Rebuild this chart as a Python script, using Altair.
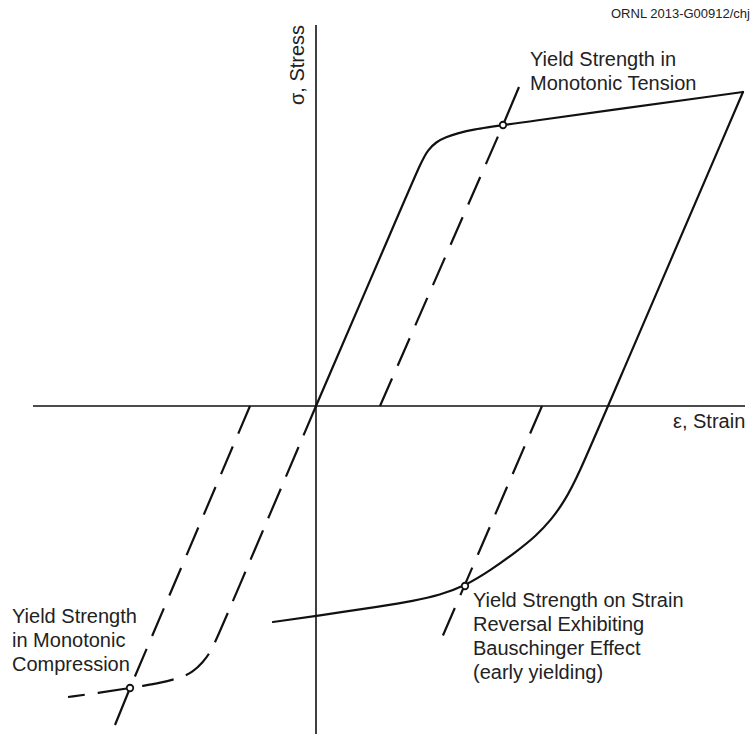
import altair as alt
import pandas as pd

# Schematic stress-strain loop (arbitrary units: strain right, stress up)

# Monotonic tension: elastic loading, yield knee, work hardening to the peak
tension_strain = [0, 84, 106, 112, 120, 130, 141, 157, 187, 427]
tension_stress = [0, 195, 246, 256, 264, 269, 272.5, 276.5, 281, 314]

# Strain reversal from the peak: elastic unloading, early (Bauschinger) yielding
reversal_strain = [-43, 0, 67, 97, 124, 149, 175, 200, 220, 235, 248, 262, 292, 427]
reversal_stress = [-216, -210, -200, -195, -189, -180, -164, -146, -130, -114, -96, -70, 0, 314]

# Monotonic compression (dashed)
compression_strain = [-248, -218, -186, -174, -156, -136, -123, -113, -106, -99, -86, 0]
compression_stress = [-291, -287, -282, -280, -277, -272, -266, -256, -247, -232, -202, 0]

# Offset (parallel-to-elastic) construction lines: start on the strain axis, end past the yield point
offset_x1 = [64, 226, -66]
offset_y1 = [0, 0, 0]
offset_x2 = [187, 125, -186]
offset_y2 = [281, -234, -282]

# Leader lines from a yield point toward its label
leader_x1 = [187, -186]
leader_y1 = [281, -282]
leader_x2 = [203, -201]
leader_y2 = [319, -319]

# Yield points
yield_strain = [187, 149, -186]
yield_stress = [281, -180, -282]

# Axes
axis_strain_range = [-283, 429]
axis_stress_range = [-328, 381]

# Annotations
label_text = [
    ["Yield Strength in", "Monotonic Tension"],
    ["Yield Strength on Strain", "Reversal Exhibiting", "Bauschinger Effect", "(early yielding)"],
    ["Yield Strength", "in Monotonic", "Compression"],
    "ε, Strain",
]
label_strain = [214, 157, -304, 357]
label_stress = [340, -201, -217, -22]

INK = "#111111"
TEXT = "#222222"
FONT = "Liberation Sans"

xs = alt.Scale(domain=[-316, 435], nice=False, zero=False)
ys = alt.Scale(domain=[-328, 406], nice=False, zero=False)
X = lambda f: alt.X(f, type="quantitative", scale=xs, axis=None)
Y = lambda f: alt.Y(f, type="quantitative", scale=ys, axis=None)

curves = pd.DataFrame({
    "strain": tension_strain + reversal_strain,
    "stress": tension_stress + reversal_stress,
    "branch": ["tension"] * len(tension_strain) + ["reversal"] * len(reversal_strain),
})
comp = pd.DataFrame({"strain": compression_strain, "stress": compression_stress})
offsets = pd.DataFrame({"x1": offset_x1, "y1": offset_y1, "x2": offset_x2, "y2": offset_y2})
leaders = pd.DataFrame({"x1": leader_x1, "y1": leader_y1, "x2": leader_x2, "y2": leader_y2})
points = pd.DataFrame({"strain": yield_strain, "stress": yield_stress})
axes_h = pd.DataFrame({"x1": [axis_strain_range[0]], "x2": [axis_strain_range[1]], "y": [0]})
axes_v = pd.DataFrame({"x": [0], "y1": [axis_stress_range[0]], "y2": [axis_stress_range[1]]})
labels = pd.DataFrame({"strain": label_strain, "stress": label_stress, "text": label_text})

h_axis = alt.Chart(axes_h).mark_rule(color=INK, strokeWidth=1.6).encode(
    x=X("x1"), x2="x2", y=Y("y"))
v_axis = alt.Chart(axes_v).mark_rule(color=INK, strokeWidth=1.6).encode(
    x=X("x"), y=Y("y1"), y2="y2")

solid = alt.Chart(curves).mark_line(
    color=INK, strokeWidth=2.2, interpolate="basis", strokeCap="round", strokeJoin="round"
).encode(x=X("strain"), y=Y("stress"), detail="branch:N")

dashed = alt.Chart(comp).mark_line(
    color=INK, strokeWidth=2.2, interpolate="basis", strokeDash=[32, 13], strokeDashOffset=15
).encode(x=X("strain"), y=Y("stress"))

offset_lines = alt.Chart(offsets).mark_rule(
    color=INK, strokeWidth=2.2, strokeDash=[30, 14]
).encode(x=X("x1"), y=Y("y1"), x2="x2", y2="y2")

leader_lines = alt.Chart(leaders).mark_rule(color=INK, strokeWidth=2.2).encode(
    x=X("x1"), y=Y("y1"), x2="x2", y2="y2")

markers = alt.Chart(points).mark_point(
    shape="circle", filled=True, fill="white", stroke=INK, strokeWidth=1.8, size=42, opacity=1
).encode(x=X("strain"), y=Y("stress"))

notes = alt.Chart(labels).mark_text(
    align="left", baseline="alphabetic", font=FONT, fontSize=20, lineHeight=24, color=TEXT
).encode(x=X("strain"), y=Y("stress"), text="text")

stress_label = alt.Chart(pd.DataFrame({"x": [-12], "y": [341], "t": ["σ, Stress"]})).mark_text(
    align="center", baseline="alphabetic", angle=270, font=FONT, fontSize=20, color=TEXT
).encode(x=X("x"), y=Y("y"), text="t")

credit = alt.Chart(pd.DataFrame({"x": [434], "y": [388], "t": ["ORNL 2013-G00912/chj"]})).mark_text(
    align="right", baseline="alphabetic", font=FONT, fontSize=13, color=TEXT
).encode(x=X("x"), y=Y("y"), text="t")

chart = alt.layer(
    h_axis, v_axis, offset_lines, dashed, solid, leader_lines, markers, notes, stress_label, credit
).properties(
    width=751, height=734, padding=0, autosize=alt.AutoSizeParams(type="none"),
    background="white",
).configure_view(stroke=None)

chart.save("out.html", embed_options={"renderer": "svg", "actions": False})
